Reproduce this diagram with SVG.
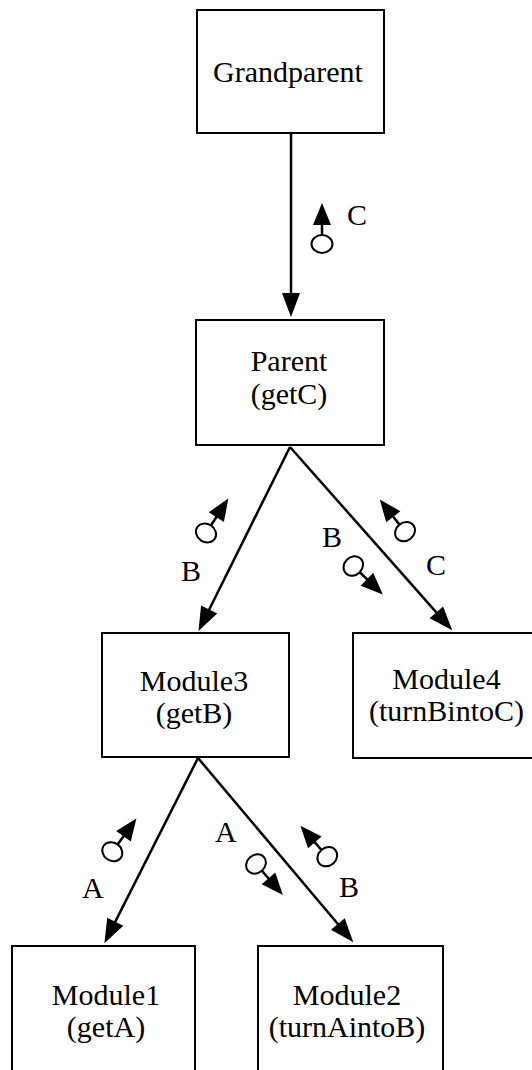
<svg xmlns="http://www.w3.org/2000/svg" xmlns:xlink="http://www.w3.org/1999/xlink" width="532" height="1070" viewBox="0 0 532 1070">
<style>
.box{fill:#fff;stroke:#000;stroke-width:2}
.t{font-family:"Liberation Serif","Times New Roman",serif;font-size:30px;fill:#000}
.m{text-anchor:middle}
.edge{fill:none;stroke:#000;stroke-width:2.5}
</style>
<defs>
<marker id="ah" markerUnits="userSpaceOnUse" markerWidth="26" markerHeight="20" refX="1" refY="9" orient="auto" viewBox="0 0 26 20" overflow="visible">
<path d="M0,0 L24,9 L0,18 Z" fill="#000"/>
</marker>
<g id="couple">
<ellipse cx="0" cy="0" rx="10.5" ry="9" fill="#fff" stroke="#000" stroke-width="2"/>
<line x1="0" y1="-9" x2="0" y2="-20" stroke="#000" stroke-width="2.5"/>
<path d="M0,-41 L9,-19 L-9,-19 Z" fill="#000"/>
</g>
</defs>
<rect width="532" height="1070" fill="#fff"/>
<g id="connectors">
<line class="edge" x1="291" y1="133" x2="291" y2="294" marker-end="url(#ah)"/>
<line class="edge" x1="290" y1="447" x2="208.7" y2="610.5" marker-end="url(#ah)"/>
<line class="edge" x1="290" y1="447" x2="437" y2="613.1" marker-end="url(#ah)"/>
<line class="edge" x1="198" y1="758" x2="114.8" y2="922.6" marker-end="url(#ah)"/>
<line class="edge" x1="198" y1="758" x2="338.5" y2="924.7" marker-end="url(#ah)"/>
<use xlink:href="#couple" transform="translate(322,244)"/>
<use xlink:href="#couple" transform="translate(206,533) rotate(33)"/>
<use xlink:href="#couple" transform="translate(353.3,566) rotate(134)"/>
<use xlink:href="#couple" transform="translate(405,531.7) rotate(-38)"/>
<use xlink:href="#couple" transform="translate(112.3,851.7) rotate(36)"/>
<use xlink:href="#couple" transform="translate(256,864) rotate(139)"/>
<use xlink:href="#couple" transform="translate(327.3,856.7) rotate(-41)"/>
<text class="t" x="347" y="225">C</text>
<text class="t" x="181" y="581">B</text>
<text class="t" x="322" y="547">B</text>
<text class="t" x="426" y="575">C</text>
<text class="t" x="82" y="898">A</text>
<text class="t" x="215" y="842">A</text>
<text class="t" x="339" y="897">B</text>
</g>
<g id="grandparent">
<rect class="box" x="197" y="10" width="187" height="123"/>
<text class="t m" x="288" y="82">Grandparent</text>
</g>
<g id="parent">
<rect class="box" x="196" y="320" width="188" height="125"/>
<text class="t m" x="289" y="371">Parent</text>
<text class="t m" x="289" y="404">(getC)</text>
</g>
<g id="module3">
<rect class="box" x="102" y="633" width="187" height="124"/>
<text class="t m" x="194" y="691">Module3</text>
<text class="t m" x="194" y="723">(getB)</text>
</g>
<g id="module4">
<rect class="box" x="353" y="633" width="187" height="125"/>
<text class="t m" x="446.5" y="689">Module4</text>
<text class="t m" x="446.5" y="721">(turnBintoC)</text>
</g>
<g id="module1">
<rect class="box" x="12" y="946" width="183" height="134"/>
<text class="t m" x="106" y="1005">Module1</text>
<text class="t m" x="106" y="1037">(getA)</text>
</g>
<g id="module2">
<rect class="box" x="258" y="946" width="185" height="134"/>
<text class="t m" x="347" y="1005">Module2</text>
<text class="t m" x="347" y="1037">(turnAintoB)</text>
</g>
</svg>
